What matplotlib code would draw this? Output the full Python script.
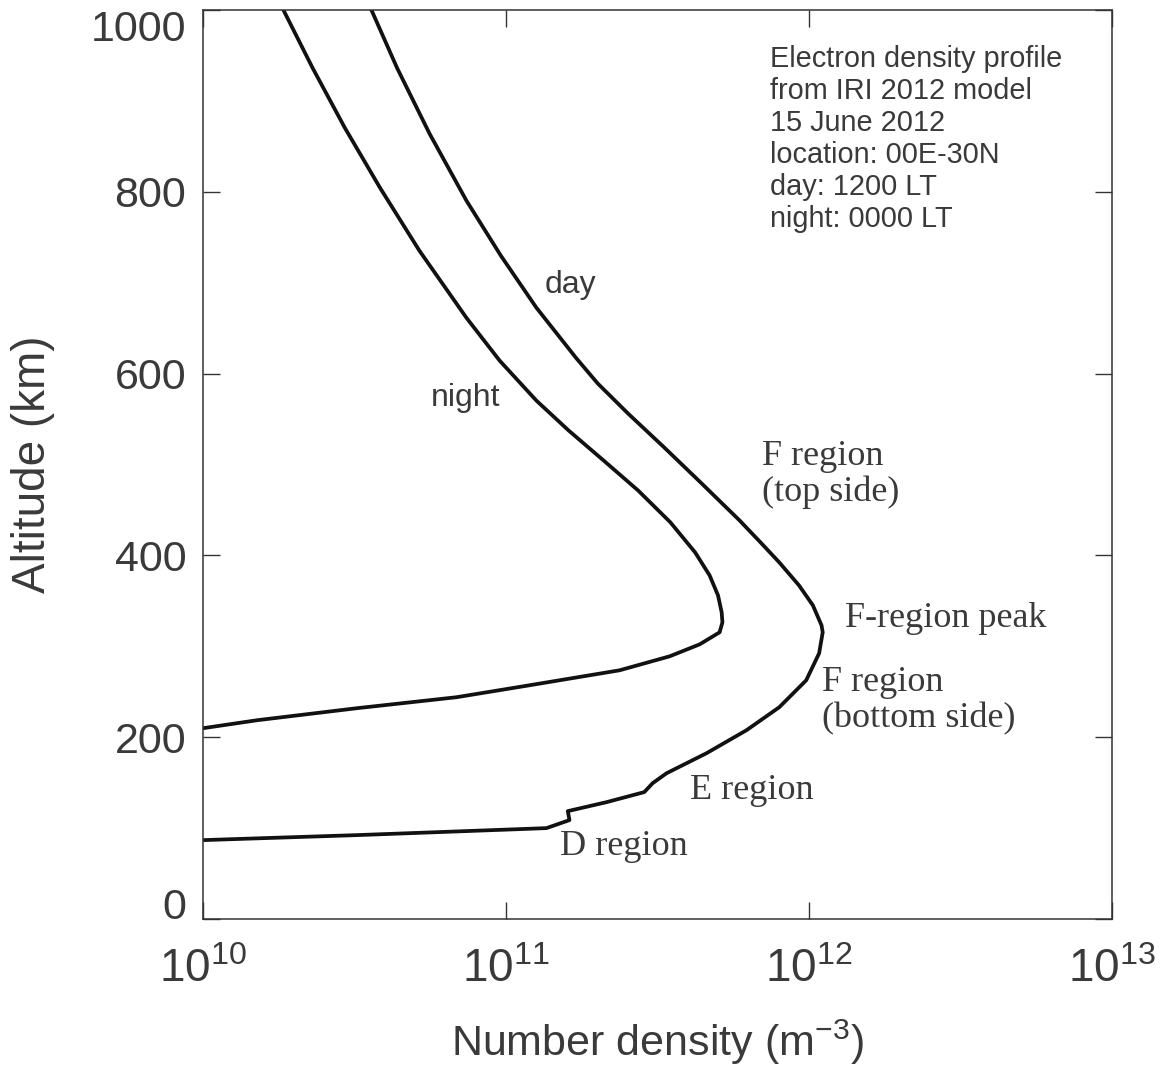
import numpy as np
import matplotlib
matplotlib.use("Agg")
import matplotlib.pyplot as plt

# IRI 2012 electron density profiles
day_density = [1.00e10, 3.22e10, 1.11e11, 1.36e11, 1.62e11, 1.60e11, 2.15e11,
               2.86e11, 3.05e11, 3.39e11, 4.59e11, 6.22e11, 7.98e11, 9.79e11,
               1.08e12, 1.11e12, 1.10e12, 1.03e12, 9.27e11, 7.98e11, 6.97e11,
               5.90e11, 4.46e11, 3.33e11, 2.53e11, 2.01e11, 1.70e11, 1.26e11,
               9.62e10, 7.41e10, 5.60e10, 4.37e10, 3.61e10]
day_altitude = [86.8, 92.3, 98.9, 100.0, 108.8, 118.7, 128.6,
                139.6, 149.5, 160.4, 182.4, 207.7, 233.0, 262.6,
                292.3, 315.4, 323.1, 345.1, 367.0, 392.3, 413.2,
                438.5, 478.0, 518.7, 556.0, 589.0, 617.6, 672.5,
                729.7, 790.1, 863.7, 936.3, 998.9]

night_density = [1.00e10, 1.51e10, 3.22e10, 6.87e10, 1.14e11, 2.37e11, 3.47e11,
                 4.36e11, 5.07e11, 5.18e11, 5.15e11, 5.01e11, 4.70e11, 4.21e11,
                 3.49e11, 2.73e11, 2.10e11, 1.61e11, 1.26e11, 9.53e10, 7.40e10,
                 5.18e10, 3.84e10, 2.94e10, 2.30e10, 1.85e10]
night_altitude = [209.9, 218.7, 231.9, 244.0, 256.0, 273.6, 289.0,
                  302.2, 315.4, 326.4, 337.4, 356.0, 378.0, 403.3,
                  436.3, 471.4, 504.4, 537.4, 570.3, 614.3, 661.5,
                  735.2, 804.4, 870.3, 936.3, 998.9]

x_ticks = [1e10, 1e11, 1e12, 1e13]
x_tick_labels = [r"$10^{10}$", r"$10^{11}$", r"$10^{12}$", r"$10^{13}$"]
y_ticks = [0, 200, 400, 600, 800, 1000]

info_lines = ["Electron density profile", "from IRI 2012 model", "15 June 2012",
              "location: 00E-30N", "day: 1200 LT", "night: 0000 LT"]

SANS = ["Liberation Sans", "DejaVu Sans"]
SERIF = ["Liberation Serif", "DejaVu Serif"]
TXT = "#3a3a3a"

plt.rcParams["mathtext.fontset"] = "custom"
plt.rcParams["mathtext.rm"] = "Liberation Sans"
plt.rcParams["mathtext.it"] = "Liberation Sans"
plt.rcParams["mathtext.default"] = "rm"

fig = plt.figure(figsize=(11.61, 10.72), dpi=100)
ax = fig.add_axes([0.1748, 0.1427, 0.7830, 0.8480])

ax.plot(day_density, day_altitude, color="#111111", lw=2.7)
ax.plot(night_density, night_altitude, color="#111111", lw=2.7)

ax.set_xscale("log")
ax.set_xlim(1e10, 1e13)
ax.set_ylim(0, 1000)
ax.set_xticks(x_ticks)
ax.set_xticklabels(x_tick_labels)
ax.set_yticks(y_ticks)
ax.xaxis.set_minor_locator(matplotlib.ticker.NullLocator())

ax.tick_params(which="major", direction="in", length=12, width=1.0, color="#333333",
               top=True, right=True)
ax.tick_params(axis="x", pad=20, labelsize=33, labelcolor=TXT)
ax.tick_params(axis="y", pad=12, labelsize=31, labelcolor=TXT)
ylabels = ax.get_yticklabels()
for lab in ylabels:
    lab.set_family(SANS)
# end labels sit inside the axis range, as in the original
ylabels[0].set_va("baseline")
ylabels[-1].set_va("top")
for spine in ax.spines.values():
    spine.set_linewidth(1.1)
    spine.set_edgecolor("#333333")

ax.set_xlabel(r"Number density (m$^{-3}$)", family=SANS, fontsize=31, color=TXT)
ax.xaxis.set_label_coords(0.5, -0.108)
ax.set_ylabel("Altitude (km)", family=SANS, fontsize=33, color=TXT)
ax.yaxis.set_label_coords(-0.163, 0.5)

ax.text(0.624, 0.961, "\n".join(info_lines), transform=ax.transAxes, family=SANS,
        fontsize=20.8, color=TXT, va="top", ha="left", linespacing=1.18)

ax.text(0.376, 0.697, "day", transform=ax.transAxes, family=SANS, fontsize=23,
        color=TXT, va="center")
ax.text(0.251, 0.573, "night", transform=ax.transAxes, family=SANS, fontsize=23,
        color=TXT, va="center")

serif_kw = dict(transform=ax.transAxes, family=SERIF, fontsize=26, color=TXT,
                va="center", ha="left", linespacing=1.12)
ax.text(0.615, 0.489, "F region\n(top side)", **serif_kw)
ax.text(0.706, 0.331, "F-region peak", **serif_kw)
ax.text(0.681, 0.240, "F region\n(bottom side)", **serif_kw)
ax.text(0.536, 0.141, "E region", **serif_kw)
ax.text(0.393, 0.080, "D region", **serif_kw)

fig.savefig("out.png", dpi=100, facecolor="white")
